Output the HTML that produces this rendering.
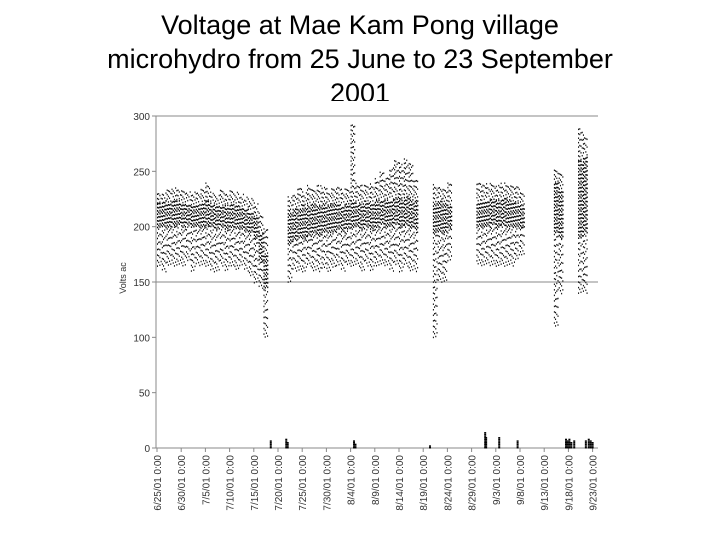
<!DOCTYPE html>
<html><head><meta charset="utf-8"><style>
body{margin:0;background:#fff;width:720px;height:540px;overflow:hidden;font-family:"Liberation Sans",sans-serif}
.t{position:absolute;left:0;width:720px;text-align:center;font-size:27px;line-height:34px;top:8px;color:#000}
svg{position:absolute;left:0;top:0}
</style></head><body>
<div class="t">Voltage at Mae Kam Pong village<br>microhydro from 25 June to 23 September<br>2001</div>
<svg id="c" width="720" height="540">
<rect x="0" y="101" width="720" height="439" fill="#fff"/>
</svg>
<script>
// [day, lo, coreLo, coreHi, hi]
const dayCols=[[0,165,200,222,232],[1,160,200,224,232],[2,165,200,222,235],[3,165,202,225,236],[4,165,202,224,235],[5,165,200,222,233],[6,168,202,222,232],[7,160,200,220,232],[8,165,200,220,232],[9,165,200,222,235],[10,165,202,224,242],[11,160,200,222,232],[12,160,198,220,230],[13,165,200,220,235],[14,160,198,220,232],[15,165,200,222,234],[16,160,198,220,232],[17,165,198,218,230],[18,160,196,218,228],[19,155,195,215,226],[20,150,190,210,222],[21,145,170,195,215],[22,100,145,175,200],
[27,150,185,215,228],[28,160,188,218,232],[29,160,190,218,235],[30,160,190,220,232],[31,165,192,220,238],[32,160,195,222,236],[33,160,192,220,238],[34,162,195,222,236],[35,160,195,220,235],[36,162,195,222,238],[37,165,198,222,236],[38,160,195,220,235],[39,165,198,222,238],[40,165,200,224,295],[41,165,200,222,240],[42,160,198,222,238],[43,165,200,224,240],[44,160,198,222,240],[45,165,200,225,245],[46,165,202,225,250],[47,165,200,225,245],[48,160,200,225,255],[49,165,202,228,262],[50,160,200,226,258],[51,165,202,228,262],[52,160,200,226,260],[53,160,198,224,245],
[57,100,195,222,240],[58,150,195,225,238],[59,150,195,222,236],[60,170,200,220,240],
[66,165,200,222,240],[67,165,200,224,238],[68,165,200,225,240],[69,165,202,226,240],[70,165,200,225,238],[71,165,202,226,240],[72,165,200,226,240],[73,165,200,224,240],[74,170,200,222,238],[75,175,200,220,232],
[82,110,195,240,255],[83,140,190,235,250],[87,140,190,260,290],[88,140,195,265,285]];
const zeroDays=[23.3,26.5,26.8,40.5,40.8,56.2,67.6,67.8,70.5,74.3,84.3,84.6,85.0,85.4,86.0,88.4,89.0,89.4,89.8];
const zeroVals=[6,8,5,7,4,2,14,9,10,7,8,6,8,5,7,6,8,7,5];
const yTicks=[0,50,100,150,200,250,300];
const xLabels=["6/25/01 0:00","6/30/01 0:00","7/5/01 0:00","7/10/01 0:00","7/15/01 0:00","7/20/01 0:00","7/25/01 0:00","7/30/01 0:00","8/4/01 0:00","8/9/01 0:00","8/14/01 0:00","8/19/01 0:00","8/24/01 0:00","8/29/01 0:00","9/3/01 0:00","9/8/01 0:00","9/13/01 0:00","9/18/01 0:00","9/23/01 0:00"];
const svg=document.getElementById('c'),NS='http://www.w3.org/2000/svg';
const X=d=>157+d*4.84, Y=v=>448-v*(332/300);
function mk(t,a,p){const e=document.createElementNS(NS,t);for(const k in a)e.setAttribute(k,a[k]);(p||svg).appendChild(e);return e;}
let l;
l=mk('line',{x1:156,y1:Y(300),x2:598,y2:Y(300),stroke:'#888'});


l=mk('line',{x1:156,y1:Y(150),x2:598,y2:Y(150),stroke:'#888'});


l=mk('line',{x1:156,y1:Y(300),x2:156,y2:448,stroke:'#888'});


l=mk('line',{x1:156,y1:448,x2:598,y2:448,stroke:'#888'});


yTicks.forEach(v=>{mk('line',{x1:152,y1:Y(v),x2:156,y2:Y(v),stroke:'#888'});
 const t=mk('text',{x:150,y:Y(v)+4,'text-anchor':'end','font-size':10,fill:'#333'});t.textContent=v;
 
 });
xLabels.forEach((s,i)=>{const x=X(i*5);mk('line',{x1:x,y1:448,x2:x,y2:452,stroke:'#888'});
 const t=mk('text',{transform:`translate(${x+4},455) rotate(-90)`,'text-anchor':'end','font-size':10,fill:'#333'});t.textContent=s;
 
 });
const yt=mk('text',{transform:'translate(126,278) rotate(-90)','text-anchor':'middle','font-size':9,fill:'#333'});yt.textContent='Volts ac';


const g=mk('g',{fill:'#000'});


dayCols.forEach(([d,lo,cl,ch,hi])=>{
 for(let s=0;s<4;s++){const x=X(d+s*0.25);const off=((s*1.7+d*0.9)%3);
  for(let v=cl+off;v<=ch;v+=3+(s%2)) mk('rect',{x:x,y:Y(v),width:1.2,height:1.6},g);
  for(let v=lo+off*2;v<cl;v+=5+s) mk('rect',{x:x,y:Y(v),width:1,height:1.5},g);
  for(let v=ch+off*2;v<=hi;v+=4+s) mk('rect',{x:x,y:Y(v),width:1,height:1.5},g);}
});
zeroDays.forEach((d,i)=>{for(let v=0;v<=zeroVals[i];v+=1.5) mk('rect',{x:X(d),y:Y(v)-1,width:2,height:1.5},g);});
</script>
</body></html>
